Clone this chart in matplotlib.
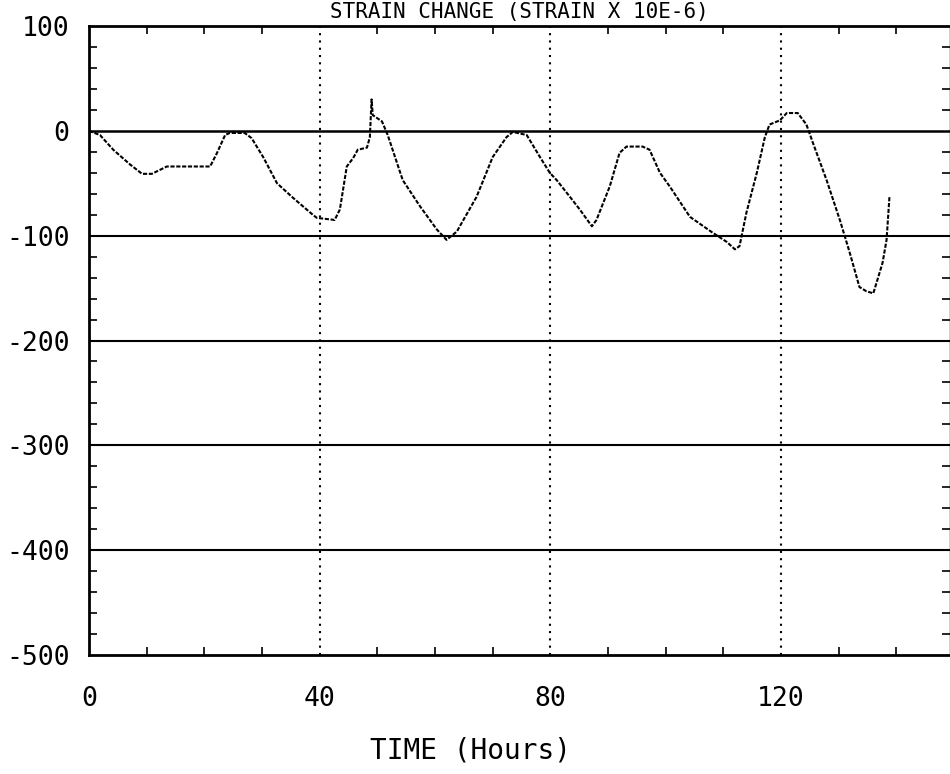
import numpy as np
import matplotlib
matplotlib.use("Agg")
import matplotlib.pyplot as plt
from matplotlib.ticker import MultipleLocator, FixedLocator

# strain record (hours, strain x 1e-6)
hours = [0, 1.9, 4.2, 7.1, 9.2, 10.9, 13.5, 20.1, 21.0, 22.2, 23.6, 24.4, 27.0,
         28.2, 30.2, 32.6, 35.4, 38.8, 39.5, 42.6, 43.5, 44.7, 45.8, 46.6, 48.2,
         48.7, 49.0, 49.2, 50.8, 51.8, 54.4, 57.4, 60.3, 62.0, 63.8, 64.3, 67.2,
         70.0, 72.4, 73.5, 75.9, 78.2, 79.9, 81.1, 83.4, 85.1, 87.2, 88.0, 90.3,
         92.0, 93.2, 96.0, 97.2, 99.0, 100.7, 104.2, 108.1, 110.6, 112.0, 112.8,
         114.0, 115.8, 117.2, 118.0, 119.8, 121.0, 122.9, 124.4, 125.5, 127.9,
         130.2, 131.9, 133.6, 134.8, 136.0, 137.6, 138.3, 138.8]
strain = [0, -4, -18, -32, -41, -41, -34, -34, -34, -21, -4, -2, -2,
          -7, -25, -50, -64, -80, -83, -85, -75, -34, -26, -18, -16,
          -6, 30, 15, 9, -4, -47, -72, -94, -104, -96, -91, -63,
          -25, -6, -1, -4, -25, -40, -47, -63, -75, -91, -85, -53,
          -21, -15, -15, -18, -40, -53, -82, -97, -106, -113, -110,
          -78, -40, -6, 6, 10, 17, 17, 6, -11, -47,
          -85, -116, -149, -153, -155, -126, -104, -63]

x_ticks = [0, 40, 80, 120]
y_ticks = [100, 0, -100, -200, -300, -400, -500]
h_lines = [0, -100, -200, -300, -400]
v_lines = [40, 80, 120]

font = {"family": "DejaVu Sans Mono"}

fig = plt.figure(figsize=(9.5, 7.74), dpi=100)
ax = fig.add_axes([0.0937, 0.1537, 0.9063, 0.8127])

for y in h_lines:
    ax.axhline(y, color="black", lw=1.8 if y == 0 else 1.5, zorder=1)
for x in v_lines:
    ax.axvline(x, color="black", lw=1.5, ls=(0, (1, 2.5)), zorder=1)

ax.plot(hours, strain, color="black", lw=1.5, ls=(0, (2, 0.8)), zorder=2)

ax.set_xlim(0, 149.3)
ax.set_ylim(-500, 100)
ax.xaxis.set_major_locator(FixedLocator(x_ticks))
ax.yaxis.set_major_locator(FixedLocator(y_ticks))
ax.xaxis.set_minor_locator(MultipleLocator(10))
ax.yaxis.set_minor_locator(MultipleLocator(20))
ax.tick_params(which="both", direction="in", top=True, right=True,
               color="black")
ax.tick_params(which="major", length=0, pad=14)
ax.tick_params(axis="x", which="major", pad=22)
ax.tick_params(which="minor", length=6, width=1.2)
ax.set_xticklabels([str(v) for v in x_ticks], fontsize=19, **font)
ax.set_yticklabels([str(v) for v in y_ticks], fontsize=19, **font)

for side in ["left", "bottom", "top"]:
    ax.spines[side].set_linewidth(2)
ax.spines["right"].set_linewidth(1)

fig.text(0.547, 0.997, "STRAIN CHANGE (STRAIN X 10E-6)", ha="center",
         va="top", fontsize=15, **font)
fig.text(0.495, 0.031, "TIME (Hours)", ha="center", va="center",
         fontsize=20, **font)

fig.savefig("out.png", dpi=100)
